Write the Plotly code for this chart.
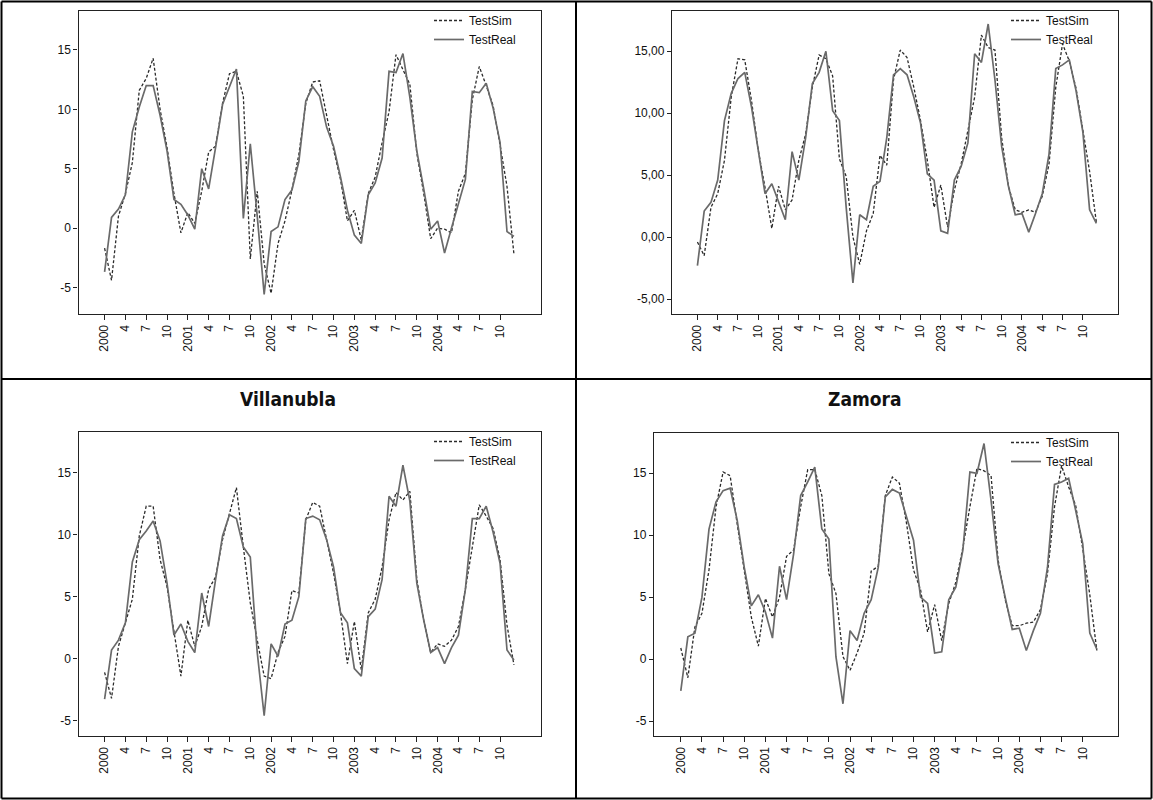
import plotly.graph_objects as go

W, H = 1153, 800

# month index 0..59 = Jan 2000 .. Dec 2004
months = list(range(60))
tick_pos = list(range(0, 58, 3))
tick_text = ["2000", "4", "7", "10", "2001", "4", "7", "10", "2002", "4", "7", "10",
             "2003", "4", "7", "10", "2004", "4", "7", "10"]

# Panel 1 (top-left)
p1_sim = [-1.7, -4.4, 1.0, 2.9, 5.5, 11.6, 12.6, 14.3, 10.0, 6.8, 2.9, -0.4, 1.3, 0.4, 3.1, 6.4,
          6.9, 10.5, 13.0, 13.2, 11.1, -2.6, 3.1, -3.0, -5.5, -1.3, 0.6, 3.2, 6.2, 10.5, 12.3, 12.4,
          9.5, 6.6, 4.1, 0.6, 1.5, -1.0, 2.9, 4.3, 7.2, 9.8, 14.6, 13.3, 12.1, 6.3, 2.9, -0.9,
          0.0, -0.1, -0.4, 3.1, 4.6, 10.8, 13.6, 12.0, 10.3, 7.0, 3.5, -2.2]
p1_real = [-3.7, 0.9, 1.6, 2.8, 8.1, 10.2, 12.0, 12.0, 9.5, 6.5, 2.4, 2.0, 1.1, -0.1, 5.0, 3.3,
           6.8, 10.4, 11.9, 13.4, 0.8, 7.1, 1.0, -5.6, -0.3, 0.1, 2.4, 3.2, 5.6, 10.7, 11.9, 11.1,
           8.5, 6.9, 4.3, 1.5, -0.6, -1.3, 2.8, 3.8, 5.9, 13.2, 13.1, 14.7, 11.0, 6.5, 3.3, -0.1,
           0.6, -2.1, 0.0, 2.0, 4.1, 11.5, 11.4, 12.2, 10.1, 7.2, -0.3, -0.7]

# Panel 2 (top-right)
p2_sim = [-0.4, -1.5, 2.4, 3.5, 6.2, 11.3, 14.4, 14.3, 11.0, 7.0, 4.0, 0.7, 4.1, 2.2, 3.0, 6.2,
          8.3, 12.1, 14.7, 14.4, 13.0, 6.3, 4.9, 0.0, -2.2, 0.5, 1.9, 6.6, 5.8, 12.7, 15.1, 14.5,
          12.1, 9.4, 6.2, 2.4, 4.2, 0.8, 3.8, 5.9, 8.6, 11.3, 16.3, 15.3, 15.1, 8.0, 4.1, 2.2,
          2.0, 2.2, 2.0, 3.3, 5.9, 12.1, 15.6, 14.2, 12.0, 8.5, 5.3, 1.2]
p2_real = [-2.3, 2.1, 2.8, 4.6, 9.4, 11.6, 12.8, 13.3, 10.5, 7.0, 3.5, 4.3, 2.8, 1.4, 6.9, 4.6,
           8.0, 12.4, 13.3, 15.0, 10.2, 9.4, 2.4, -3.7, 1.8, 1.4, 4.1, 4.5, 8.0, 13.1, 13.6, 13.1,
           11.3, 9.2, 5.1, 4.6, 0.5, 0.3, 4.6, 5.7, 7.6, 14.8, 14.1, 17.2, 12.7, 7.3, 4.1, 1.8,
           1.9, 0.4, 1.9, 3.5, 6.7, 13.6, 13.9, 14.3, 11.8, 8.5, 2.2, 1.1]

# Panel 3 (bottom-left, Villanubla)
p3_sim = [-1.1, -3.2, 1.0, 2.9, 4.8, 9.9, 12.3, 12.3, 8.0, 5.8, 2.1, -1.4, 3.1, 1.0, 2.6, 5.6,
          6.6, 9.6, 11.7, 13.8, 9.0, 4.5, 1.5, -1.4, -1.6, 0.5, 1.8, 5.5, 5.3, 11.2, 12.6, 12.3,
          9.6, 6.9, 3.7, -0.4, 3.0, -0.9, 3.7, 4.8, 7.4, 11.2, 13.4, 12.8, 13.5, 6.4, 3.1, 0.5,
          1.2, 1.0, 1.5, 2.6, 5.6, 9.1, 12.4, 11.5, 10.5, 8.0, 2.7, -0.5]
p3_real = [-3.25, 0.7, 1.5, 2.9, 7.8, 9.6, 10.3, 11.1, 9.5, 6.1, 1.9, 2.8, 1.4, 0.5, 5.3, 2.6,
           6.4, 9.9, 11.6, 11.3, 9.0, 8.2, 0.5, -4.6, 1.2, 0.2, 2.8, 3.1, 5.0, 11.3, 11.5, 11.2,
           9.6, 7.4, 3.7, 2.9, -0.8, -1.4, 3.4, 4.0, 6.4, 13.1, 12.3, 15.6, 12.7, 6.1, 3.1, 0.5,
           0.9, -0.4, 0.9, 1.9, 5.6, 11.3, 11.3, 12.3, 10.2, 7.7, 0.7, -0.1]

# Panel 4 (bottom-right, Zamora)
p4_sim = [0.9, -1.5, 2.6, 3.7, 7.2, 12.3, 15.1, 14.8, 10.9, 7.2, 3.4, 1.05, 4.9, 3.4, 5.0, 8.3,
          8.8, 12.3, 15.3, 15.3, 13.2, 6.9, 5.3, 0.2, -0.9, 0.5, 2.1, 7.1, 7.5, 13.2, 14.7, 14.2,
          11.0, 7.2, 5.6, 2.2, 4.4, 1.5, 4.5, 6.2, 9.0, 12.3, 15.4, 15.2, 14.8, 8.0, 4.8, 2.7,
          2.7, 2.9, 3.0, 4.0, 6.9, 12.3, 15.6, 13.9, 12.4, 8.9, 5.2, 0.7]
p4_real = [-2.55, 1.8, 2.1, 5.0, 10.5, 12.7, 13.6, 13.8, 11.2, 7.4, 4.3, 5.2, 3.8, 1.7, 7.5, 4.8,
           8.5, 13.2, 14.3, 15.5, 10.5, 9.7, 0.2, -3.6, 2.3, 1.5, 3.7, 4.8, 7.4, 13.1, 13.7, 13.4,
           11.5, 9.6, 5.0, 4.5, 0.5, 0.6, 4.8, 5.8, 8.8, 15.1, 15.0, 17.4, 12.8, 7.7, 5.0, 2.4,
           2.5, 0.7, 2.3, 3.7, 7.4, 14.1, 14.3, 14.6, 12.0, 9.3, 2.1, 0.8]

y_ticks = [-5, 0, 5, 10, 15]
y_text_plain = ["-5", "0", "5", "10", "15"]
y_text_comma = ["-5,00", "0,00", "5,00", "10,00", "15,00"]

titles = ["", "", "Villanubla", "Zamora"]

# layout (pixels): frame left, right, top, bottom ; x range ; y range
panels = [
    dict(sim=p1_sim, real=p1_real, box=(78.5, 541, 11, 314), xr=(-3.76, 62.9), yr=(-7.24, 18.28), yt=y_text_plain),
    dict(sim=p2_sim, real=p2_real, box=(672, 1118, 11, 314), xr=(-3.76, 62.2), yr=(-6.21, 18.25), yt=y_text_comma),
    dict(sim=p3_sim, real=p3_real, box=(78.5, 541, 432, 736), xr=(-3.76, 62.9), yr=(-6.23, 18.28), yt=y_text_plain),
    dict(sim=p4_sim, real=p4_real, box=(654, 1118, 433, 736), xr=(-3.8, 62.0), yr=(-6.2, 18.25), yt=y_text_plain),
]

FONT = "Liberation Sans, Arial, sans-serif"
TITLE_FONT = "DejaVu Sans Condensed, Liberation Sans Narrow, Liberation Sans, Arial"
fig = go.Figure()
layout = dict(width=W, height=H, margin=dict(l=0, r=0, t=0, b=0),
              paper_bgcolor="white", plot_bgcolor="white", showlegend=True,
              font=dict(family=FONT, size=12, color="#111"))

for k, p in enumerate(panels):
    n = "" if k == 0 else str(k + 1)
    xa, ya = "x" + n, "y" + n
    lg = "legend" + n
    fig.add_trace(go.Scatter(x=months, y=p["sim"], mode="lines", name="TestSim",
                             line=dict(color="#2a2a2a", width=1.3, dash="3px,2px"),
                             xaxis=xa, yaxis=ya, legend=lg))
    fig.add_trace(go.Scatter(x=months, y=p["real"], mode="lines", name="TestReal",
                             line=dict(color="#6a6a6a", width=1.7),
                             xaxis=xa, yaxis=ya, legend=lg))
    l, r, t, b = p["box"]
    xd = [l / W, r / W]
    yd = [1 - b / H, 1 - t / H]
    layout["xaxis" + n] = dict(domain=xd, range=list(p["xr"]), anchor=ya,
                               tickvals=tick_pos, ticktext=tick_text, tickangle=-90,
                               ticks="outside", ticklen=5, tickcolor="#222",
                               showline=True, linecolor="#222", linewidth=1.3, mirror=True,
                               showgrid=False, zeroline=False,
                               tickfont=dict(family=FONT, size=12, color="#111"))
    layout["yaxis" + n] = dict(domain=yd, range=list(p["yr"]), anchor=xa,
                               tickvals=y_ticks, ticktext=p["yt"],
                               ticks="outside", ticklen=4, tickcolor="#222",
                               showline=True, linecolor="#222", linewidth=1.3, mirror=True,
                               showgrid=False, zeroline=False,
                               tickfont=dict(family=FONT, size=12, color="#111"))
    layout[lg] = dict(x=(r - 112) / W, y=1 - (t - 5) / H, xanchor="left", yanchor="top",
                      bgcolor="rgba(0,0,0,0)", borderwidth=0, itemwidth=30,
                      tracegroupgap=0, font=dict(family=FONT, size=12, color="#111"))
    if titles[k]:
        fig.add_annotation(text="<b>" + titles[k] + "</b>", xref="paper", yref="paper",
                           x=((0 if k == 2 else 576) + (576 if k == 2 else W)) / 2 / W,
                           y=1 - 399 / H, xanchor="center", yanchor="middle", showarrow=False,
                           font=dict(family=TITLE_FONT, size=19, color="#111"))

fig.update_layout(**layout)

# table borders
lines = [
    (1.5, 1.5, W - 1.5, 1.5), (1.5, H - 1.5, W - 1.5, H - 1.5),
    (1.5, 1.5, 1.5, H - 1.5), (W - 1.5, 1.5, W - 1.5, H - 1.5),
    (576, 1.5, 576, H - 1.5), (1.5, 379, W - 1.5, 379),
]
for x0, y0, x1, y1 in lines:
    fig.add_shape(type="line", xref="paper", yref="paper", x0=x0 / W, x1=x1 / W,
                  y0=1 - y0 / H, y1=1 - y1 / H, line=dict(color="black", width=2))

fig.write_html("out.html")
